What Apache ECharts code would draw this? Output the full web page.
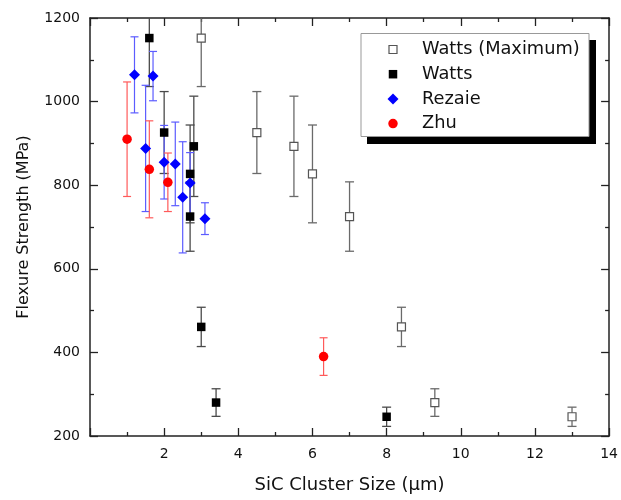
<!DOCTYPE html>
<html>
<head>
<meta charset="utf-8">
<script src="https://cdn.jsdelivr.net/npm/echarts@6/dist/echarts.min.js"></script>
<style>
html,body{margin:0;padding:0;background:#fff;}
#chart{width:621px;height:500px;}
</style>
</head>
<body>
<div id="chart"></div>
<script>
// ---- data ----
var wattsMaxX   = [3.0, 4.5, 5.5, 6.0, 7.0, 8.4, 9.3, 13.0];
var wattsMaxY   = [1152, 926, 893, 827, 725, 461, 280, 246];
var wattsMaxErr = [116, 98, 120, 117, 83, 47, 33, 23];

var wattsX   = [1.6, 2.0, 2.8, 2.7, 2.7, 3.0, 3.4, 8.0];
var wattsY   = [1152, 926, 893, 827, 725, 461, 280, 246];
var wattsErr = [116, 98, 120, 117, 83, 47, 33, 23];

var rezaieX   = [1.2, 1.7, 1.5, 2.0, 2.3, 2.5, 2.7, 3.1];
var rezaieY   = [1064, 1061, 888, 855, 851, 771, 805, 720];
var rezaieErr = [91, 59, 151, 88, 100, 133, 73, 38];

var zhuX   = [1.0, 1.6, 2.1, 6.3];
var zhuY   = [910, 838, 807, 390];
var zhuErr = [137, 116, 70, 45];

var seriesNames = ['Watts (Maximum)', 'Watts', 'Rezaie', 'Zhu'];
var xTicks = {min: 0, max: 14, interval: 2};
var yTicks = {min: 200, max: 1200, interval: 200};

// ---- helpers ----
function pts(xs, ys) { return xs.map(function (x, i) { return [x, ys[i]]; }); }
function errPts(xs, ys, es) { return xs.map(function (x, i) { return [x, ys[i], es[i]]; }); }

function errRender(color, capW, lw) {
  return function (params, api) {
    var x = api.value(0), y = api.value(1), e = api.value(2);
    var t = api.coord([x, y + e]);
    var b = api.coord([x, y - e]);
    var h = capW / 2;
    var st = {stroke: color, lineWidth: lw};
    return {
      type: 'group',
      children: [
        {type: 'line', shape: {x1: t[0], y1: t[1], x2: b[0], y2: b[1]}, style: st},
        {type: 'line', shape: {x1: t[0] - h, y1: t[1], x2: t[0] + h, y2: t[1]}, style: st},
        {type: 'line', shape: {x1: b[0] - h, y1: b[1], x2: b[0] + h, y2: b[1]}, style: st}
      ]
    };
  };
}

var FONT = 'DejaVu Sans';
var axisLineStyle = {color: '#222', width: 1.5};

function makeAxis(base, pos, showLabel, extra) {
  var a = {
    type: 'value',
    position: pos,
    min: base.min, max: base.max, interval: base.interval,
    axisLine: {show: true, onZero: false, lineStyle: axisLineStyle},
    axisTick: {show: true, inside: true, length: 8, lineStyle: {color: '#222', width: 1.3}},
    minorTick: {show: true, splitNumber: 2, length: 4, lineStyle: {color: '#222', width: 1.3}},
    splitLine: {show: false},
    minorSplitLine: {show: false},
    axisLabel: {show: showLabel, fontFamily: FONT, fontSize: 14, color: '#111',
      formatter: function (v) { return String(v); }}
  };
  for (var k in extra) a[k] = extra[k];
  return a;
}

var chart = echarts.init(document.getElementById('chart'), null, {renderer: 'canvas'});

var xBottom = makeAxis(xTicks, 'bottom', true, {
  name: 'SiC Cluster Size (\u03bcm)',
  nameLocation: 'middle',
  nameGap: 40,
  nameTextStyle: {fontFamily: FONT, fontSize: 18, color: '#111'}
});
xBottom.axisLabel.margin = 11;
xBottom.axisLabel.formatter = function (v) { return v === 0 ? '' : String(v); };

var yLeft = makeAxis(yTicks, 'left', true, {
  name: 'Flexure Strength (MPa)',
  nameLocation: 'middle',
  nameGap: 58,
  nameTextStyle: {fontFamily: FONT, fontSize: 16, color: '#111'}
});
yLeft.axisLabel.margin = 10;

// legend drawn as graphic elements (box with drop shadow, as in the reference)
var legendStyles = [
  {shape: 'rect', size: 8, fill: '#fff', stroke: '#555'},
  {shape: 'rect', size: 8.5, fill: '#000', stroke: null},
  {shape: 'diamond', size: 11, fill: '#0000ff', stroke: null},
  {shape: 'circle', size: 9.5, fill: '#ff0000', stroke: null}
];
var legendRowsY = [49.5, 74.2, 98.9, 123.6];
var legendSymX = 393, legendTextX = 422;

function legendGraphics() {
  var g = [
    {type: 'rect', shape: {x: 367, y: 40, width: 229, height: 104}, style: {fill: '#000'}, z: 10, silent: true},
    {type: 'rect', shape: {x: 361, y: 33.5, width: 228, height: 103}, style: {fill: '#fff', stroke: '#999', lineWidth: 1}, z: 11, silent: true}
  ];
  seriesNames.forEach(function (name, i) {
    var s = legendStyles[i], cy = legendRowsY[i], cx = legendSymX, h = s.size / 2;
    var sym;
    if (s.shape === 'rect') {
      sym = {type: 'rect', shape: {x: cx - h, y: cy - h, width: s.size, height: s.size},
        style: {fill: s.fill, stroke: s.stroke, lineWidth: s.stroke ? 1.2 : 0}};
    } else if (s.shape === 'diamond') {
      sym = {type: 'polygon', shape: {points: [[cx, cy - h], [cx + h, cy], [cx, cy + h], [cx - h, cy]]},
        style: {fill: s.fill}};
    } else {
      sym = {type: 'circle', shape: {cx: cx, cy: cy, r: h}, style: {fill: s.fill}};
    }
    sym.z = 12; sym.silent = true;
    g.push(sym);
    g.push({type: 'text', x: legendTextX, y: cy, z: 12, silent: true,
      style: {text: name, fontFamily: FONT, fontSize: 17.8, fill: '#111', verticalAlign: 'middle', align: 'left'}});
  });
  return g;
}

var option = {
  backgroundColor: '#fff',
  animation: false,
  grid: {left: 90, right: 8, top: 18, bottom: 64, containLabel: false},
  xAxis: [xBottom, makeAxis(xTicks, 'top', false, {})],
  yAxis: [yLeft, makeAxis(yTicks, 'right', false, {})],
  graphic: legendGraphics(),
  series: [
    {type: 'custom', name: 'err0', data: errPts(wattsMaxX, wattsMaxY, wattsMaxErr), clip: true,
      renderItem: errRender('#6a6a6a', 9, 1.3), encode: {x: 0, y: 1}, z: 2},
    {type: 'custom', name: 'err1', data: errPts(wattsX, wattsY, wattsErr), clip: true,
      renderItem: errRender('#4a4a4a', 9, 1.3), encode: {x: 0, y: 1}, z: 2},
    {type: 'custom', name: 'err2', data: errPts(rezaieX, rezaieY, rezaieErr), clip: true,
      renderItem: errRender('#5c5cff', 8, 1.2), encode: {x: 0, y: 1}, z: 2},
    {type: 'custom', name: 'err3', data: errPts(zhuX, zhuY, zhuErr), clip: true,
      renderItem: errRender('#ff5a5a', 8, 1.2), encode: {x: 0, y: 1}, z: 2},
    {type: 'scatter', name: seriesNames[0], data: pts(wattsMaxX, wattsMaxY), symbol: 'rect', symbolSize: 8,
      itemStyle: {color: '#fff', borderColor: '#555', borderWidth: 1.2, opacity: 1}, z: 3},
    {type: 'scatter', name: seriesNames[1], data: pts(wattsX, wattsY), symbol: 'rect', symbolSize: 8.5,
      itemStyle: {color: '#000', opacity: 1}, z: 3},
    {type: 'scatter', name: seriesNames[2], data: pts(rezaieX, rezaieY), symbol: 'diamond', symbolSize: 11,
      itemStyle: {color: '#0000ff', opacity: 1}, z: 3},
    {type: 'scatter', name: seriesNames[3], data: pts(zhuX, zhuY), symbol: 'circle', symbolSize: 9.5,
      itemStyle: {color: '#ff0000', opacity: 1}, z: 3}
  ]
};
chart.setOption(option);
</script>
</body>
</html>
